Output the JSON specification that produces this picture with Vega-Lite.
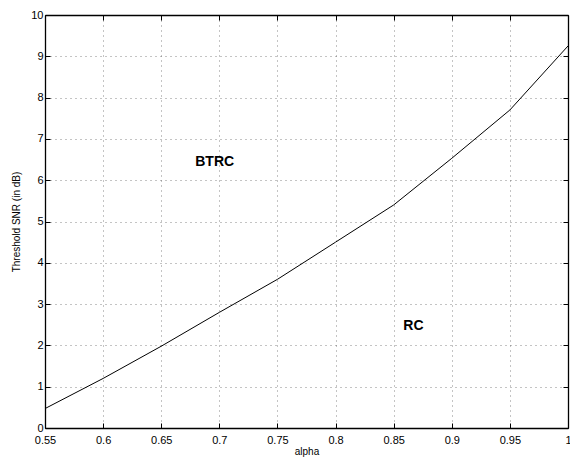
{
  "$schema": "https://vega.github.io/schema/vega-lite/v6.json",
  "width": 523,
  "height": 413,
  "autosize": {"type": "none"},
  "padding": {"left": 45, "top": 15, "right": 2, "bottom": 30},
  "background": "white",
  "config": {
    "view": {"stroke": null},
    "font": "Liberation Sans",
    "axis": {
      "domainColor": "black",
      "domainWidth": 1.3,
      "tickColor": "black",
      "tickSize": -5,
      "tickWidth": 1,
      "labelColor": "black",
      "labelFont": "Liberation Sans",
      "labelFontSize": 11,
      "titleFont": "Liberation Sans",
      "titleFontSize": 10,
      "titleFontWeight": "normal",
      "titleColor": "black",
      "gridColor": "#555555",
      "gridOpacity": 0.7,
      "gridDash": [1, 4],
      "gridWidth": 1
    }
  },
  "data": {
    "values": [
      {"alpha": 0.55, "snr": 0.47},
      {"alpha": 0.6, "snr": 1.2},
      {"alpha": 0.65, "snr": 1.98},
      {"alpha": 0.7, "snr": 2.8},
      {"alpha": 0.75, "snr": 3.6},
      {"alpha": 0.8, "snr": 4.5},
      {"alpha": 0.85, "snr": 5.4},
      {"alpha": 0.9, "snr": 6.53},
      {"alpha": 0.95, "snr": 7.7},
      {"alpha": 1.0, "snr": 9.25}
    ]
  },
  "layer": [
    {
      "mark": {"type": "line", "color": "black", "strokeWidth": 1},
      "encoding": {
        "x": {"field": "alpha", "type": "quantitative", "scale": {"domain": [0.55, 1], "nice": false, "zero": false},
          "axis": {"title": "alpha", "values": [0.55, 0.6, 0.65, 0.7, 0.75, 0.8, 0.85, 0.9, 0.95, 1], "labelExpr": "format(datum.value, '.2~f')", "labelPadding": 11, "titlePadding": 1, "grid": true, "labelFlush": false}},
        "y": {"field": "snr", "type": "quantitative", "scale": {"domain": [0, 10], "nice": false},
          "axis": {"title": "Threshold SNR (in dB)", "values": [0,1,2,3,4,5,6,7,8,9,10], "labelPadding": 7, "titlePadding": 9, "grid": true, "labelFlush": false}}
      }
    },
    {
      "data": {"values": [
        {"alpha": 0.696, "snr": 6.45, "label": "BTRC"},
        {"alpha": 0.867, "snr": 2.47, "label": "RC"}
      ]},
      "mark": {"type": "text", "fontWeight": "bold", "fontSize": 14, "font": "Liberation Sans", "color": "black", "align": "center", "baseline": "middle"},
      "encoding": {
        "x": {"field": "alpha", "type": "quantitative", "axis": {"orient": "top", "labels": false, "title": null, "grid": false, "values": [0.55, 0.6, 0.65, 0.7, 0.75, 0.8, 0.85, 0.9, 0.95, 1]}},
        "y": {"field": "snr", "type": "quantitative", "axis": {"orient": "right", "labels": false, "title": null, "grid": false, "values": [0,1,2,3,4,5,6,7,8,9,10]}},
        "text": {"field": "label"}
      }
    }
  ],
  "resolve": {"axis": {"x": "independent", "y": "independent"}}
}
